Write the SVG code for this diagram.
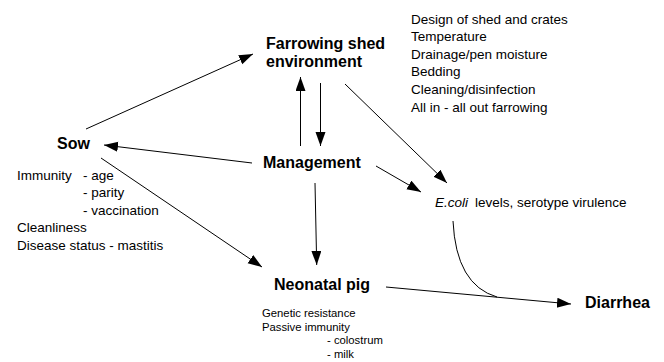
<svg xmlns="http://www.w3.org/2000/svg" width="664" height="362" viewBox="0 0 664 362">
<style>
.b{font-family:"Liberation Sans",Arial,sans-serif;font-weight:bold;font-size:16px;fill:#000}
.t{font-family:"Liberation Sans",Arial,sans-serif;font-size:13.5px;fill:#000}
.s{font-family:"Liberation Sans",Arial,sans-serif;font-size:11.3px;fill:#000}
.c{stroke:#000;stroke-width:1;fill:none}
</style>
<defs>
<marker id="ah" markerUnits="userSpaceOnUse" markerWidth="16" markerHeight="12" refX="14" refY="5" orient="auto">
<path d="M0,0 L14,5 L0,10 z" fill="#000"/>
</marker>
</defs>
<rect width="664" height="362" fill="#fff"/>
<g id="connectors">
<line class="c" x1="86" y1="129" x2="253" y2="54" marker-end="url(#ah)"/>
<line class="c" x1="252" y1="163" x2="104" y2="145" marker-end="url(#ah)"/>
<line class="c" x1="300.5" y1="146" x2="300.5" y2="77" marker-end="url(#ah)"/>
<line class="c" x1="320.5" y1="83" x2="320.5" y2="146" marker-end="url(#ah)"/>
<line class="c" x1="101" y1="158" x2="262" y2="267" marker-end="url(#ah)"/>
<line class="c" x1="315" y1="183" x2="316.7" y2="265" marker-end="url(#ah)"/>
<line class="c" x1="345" y1="84" x2="447" y2="183" marker-end="url(#ah)"/>
<line class="c" x1="376" y1="166" x2="421" y2="192" marker-end="url(#ah)"/>
<line class="c" x1="386" y1="287" x2="571" y2="304" marker-end="url(#ah)"/>
<path class="c" d="M453,221 Q456,285 497,297"/>
</g>
<g id="farrowing">
<text class="b" x="266" y="49">Farrowing shed</text>
<text class="b" x="266" y="67">environment</text>
</g>
<g id="farrowing-factors">
<text class="t" x="411" y="23.5">Design of shed and crates</text>
<text class="t" x="411" y="41">Temperature</text>
<text class="t" x="411" y="58.5">Drainage/pen moisture</text>
<text class="t" x="411" y="76">Bedding</text>
<text class="t" x="411" y="94">Cleaning/disinfection</text>
<text class="t" x="411" y="111.5">All in - all out farrowing</text>
</g>
<g id="sow">
<text class="b" x="57" y="149">Sow</text>
</g>
<g id="sow-factors">
<text class="t" x="17" y="179.5">Immunity</text>
<text class="t" x="83" y="179.5">- age</text>
<text class="t" x="83" y="197">- parity</text>
<text class="t" x="83" y="214.5">- vaccination</text>
<text class="t" x="17" y="232">Cleanliness</text>
<text class="t" x="17" y="249.5">Disease status - mastitis</text>
</g>
<g id="management">
<text class="b" x="263" y="168">Management</text>
</g>
<g id="ecoli">
<text class="t" x="435" y="207"><tspan font-style="italic">E.coli</tspan><tspan x="475">levels, serotype virulence</tspan></text>
</g>
<g id="neonatal">
<text class="b" x="274" y="290">Neonatal pig</text>
</g>
<g id="neonatal-factors">
<text class="s" x="262" y="316.5">Genetic resistance</text>
<text class="s" x="262" y="330.5">Passive immunity</text>
<text class="s" x="327" y="344">- colostrum</text>
<text class="s" x="327" y="357.5">- milk</text>
</g>
<g id="diarrhea">
<text class="b" x="585" y="308">Diarrhea</text>
</g>
</svg>
